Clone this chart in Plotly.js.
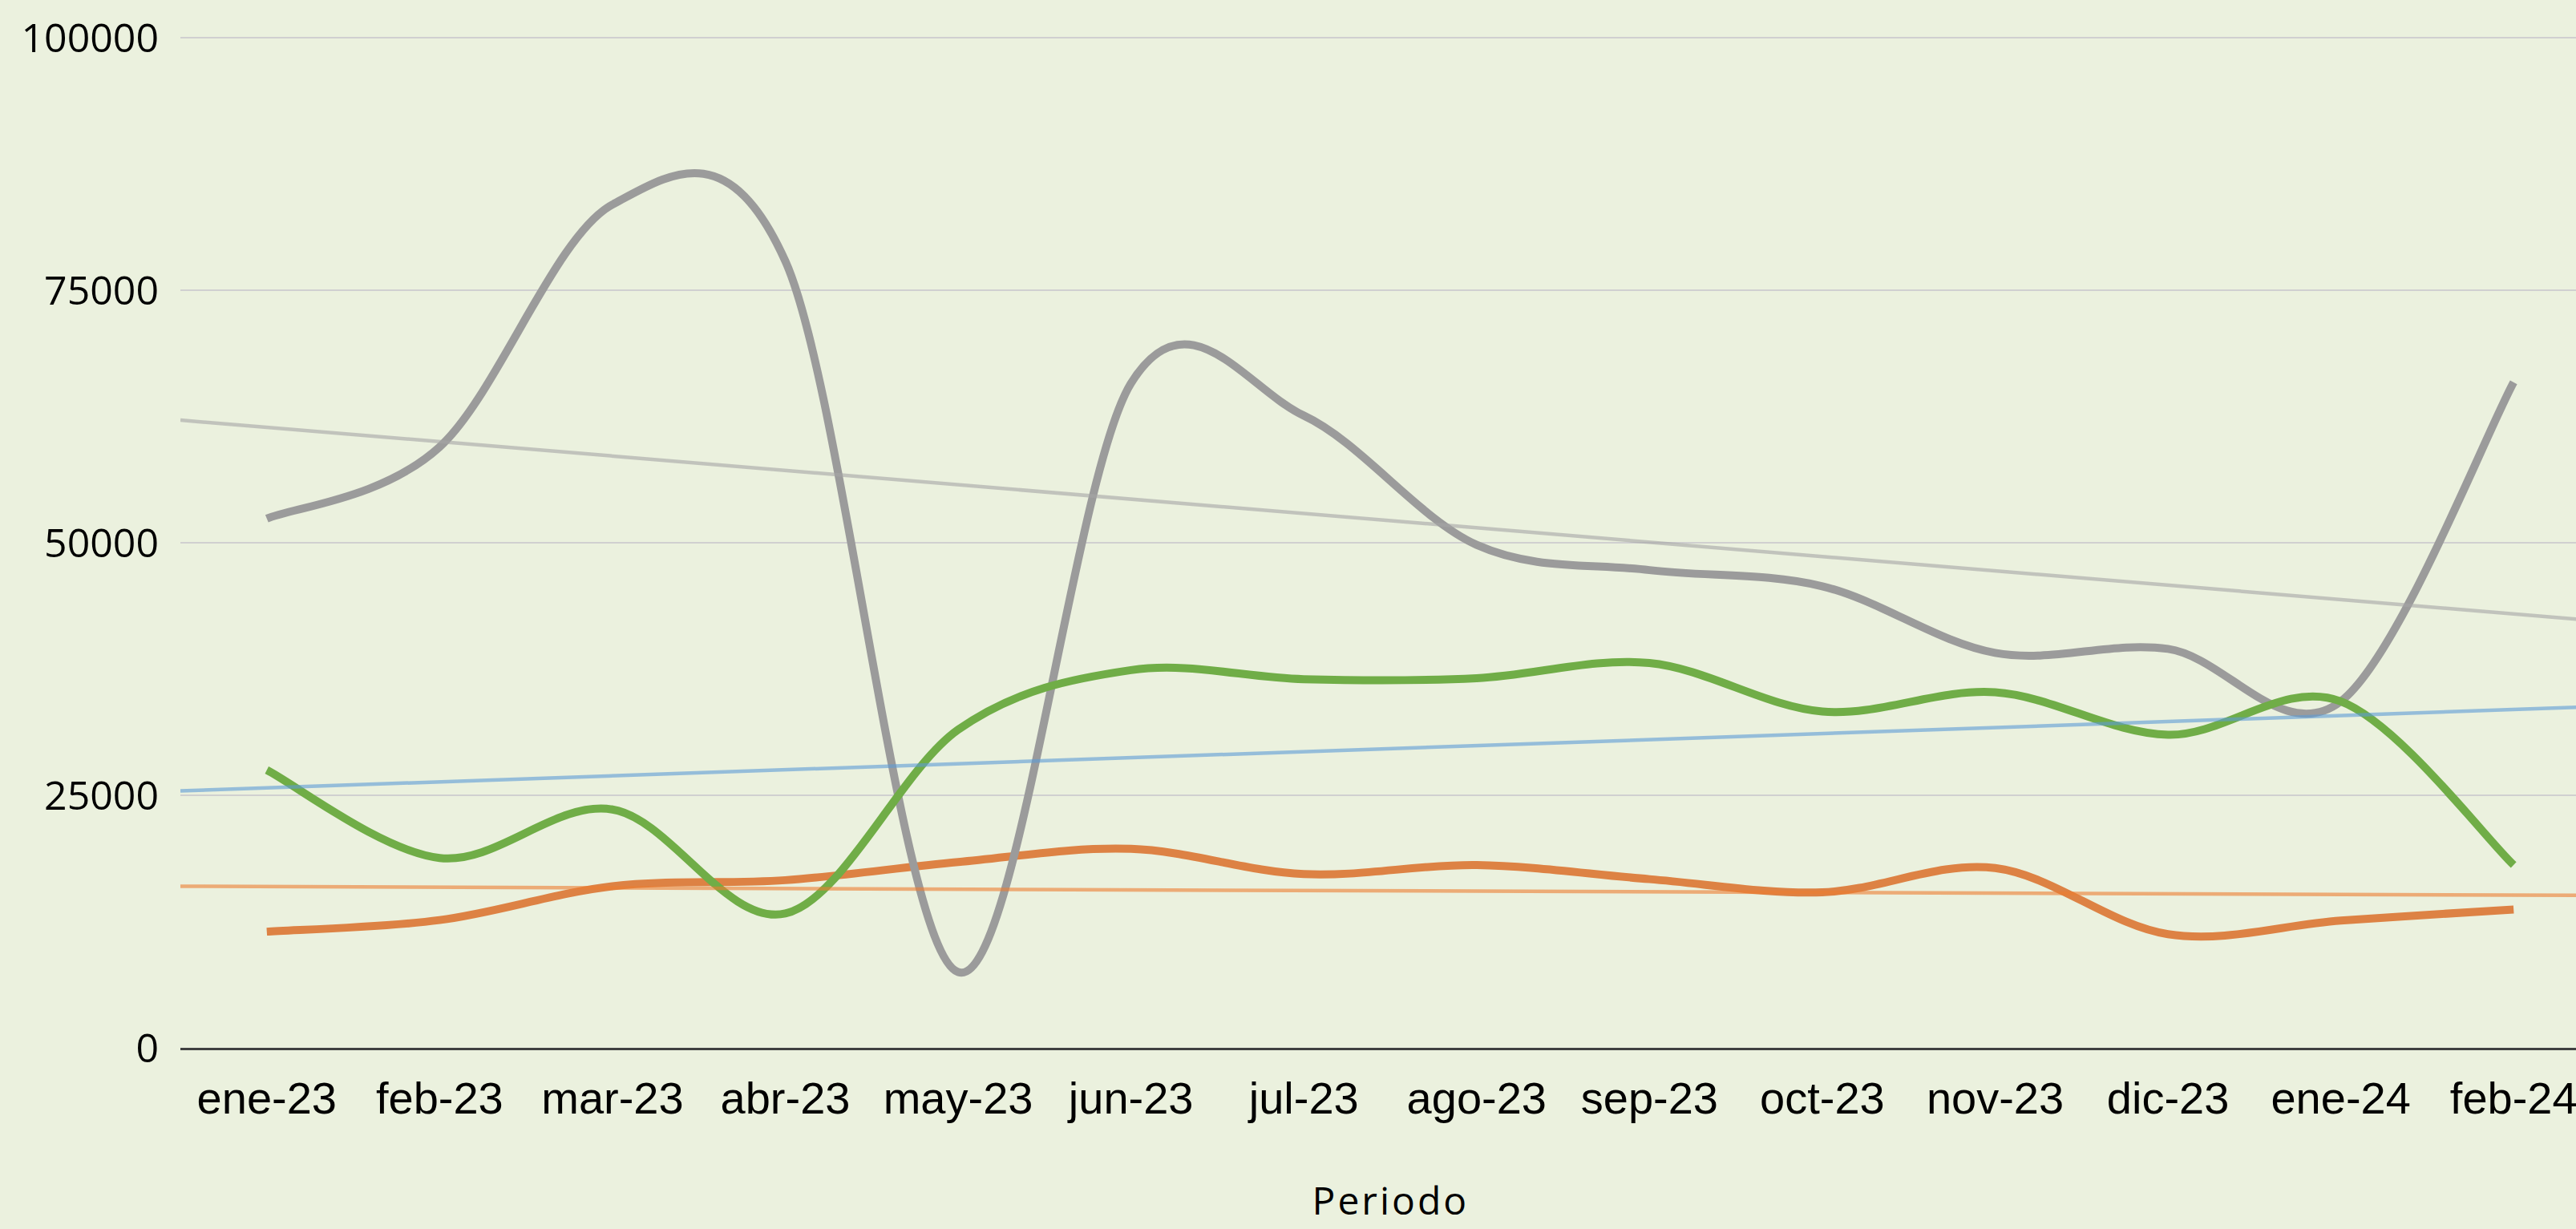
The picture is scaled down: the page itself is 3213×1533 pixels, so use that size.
<!DOCTYPE html>
<html>
<head>
<meta charset="utf-8">
<script src="https://cdn.plot.ly/plotly-3.0.1.min.js"></script>
<style>
  html, body { margin: 0; padding: 0; background: #EBF1DE; overflow: hidden; width: 3213px; height: 1533px; }
  #chart { width: 3260px; height: 1533px; }
</style>
</head>
<body>
<div id="chart"></div>
<script>
// ---- Data ----
const meses = ['ene-23','feb-23','mar-23','abr-23','may-23','jun-23','jul-23','ago-23','sep-23','oct-23','nov-23','dic-23','ene-24','feb-24'];
const serieGris    = [52400, 59500, 83500, 77900, 7500, 65800, 62600, 49800, 47300, 45700, 39100, 39500, 34300, 65900];
const serieVerde   = [27500, 18800, 23600, 13300, 31500, 37400, 36500, 36600, 38100, 33300, 35200, 31000, 34300, 18100];
const serieNaranja = [11500, 12650, 16000, 16600, 18400, 19700, 17200, 18100, 16700, 15400, 17800, 11250, 12600, 13700];
// Linear trend of a series whose line is not shown (value at ene-23 and at feb-24)
const tendenciaAzul = [25740, 33500];
const yTicks = [0, 25000, 50000, 75000, 100000];
const tituloX = 'Periodo';

// ---- Helpers ----
const idx = meses.map((_, i) => i);
const xMin = -0.5, xMax = meses.length - 0.5;
function linreg(ys) {
  const n = ys.length;
  const mx = (n - 1) / 2;
  const my = ys.reduce((a, b) => a + b, 0) / n;
  let sxy = 0, sxx = 0;
  ys.forEach((y, i) => { sxy += (i - mx) * (y - my); sxx += (i - mx) * (i - mx); });
  const m = sxy / sxx;
  return { m: m, b: my - m * mx };
}
function trendTrace(fit, color) {
  return {
    x: [xMin, xMax],
    y: [fit.b + fit.m * xMin, fit.b + fit.m * xMax],
    mode: 'lines', line: { color: color, width: 4.5 },
    hoverinfo: 'skip', showlegend: false
  };
}
const fitAzul = (function () {
  const last = meses.length - 1;
  const m = (tendenciaAzul[1] - tendenciaAzul[0]) / last;
  return { m: m, b: tendenciaAzul[0] };
})();

// Smoothed line (Excel-style cubic Bezier through the data points), drawn in data coordinates
function smoothPath(ys) {
  const n = ys.length;
  const P = (i) => [idx[Math.max(0, Math.min(n - 1, i))], ys[Math.max(0, Math.min(n - 1, i))]];
  let d = 'M ' + P(0)[0] + ',' + P(0)[1];
  for (let i = 0; i < n - 1; i++) {
    const p0 = P(i - 1), p1 = P(i), p2 = P(i + 1), p3 = P(i + 2);
    const c1 = [p1[0] + (p2[0] - p0[0]) / 6, p1[1] + (p2[1] - p0[1]) / 6];
    const c2 = [p2[0] - (p3[0] - p1[0]) / 6, p2[1] - (p3[1] - p1[1]) / 6];
    d += ' C ' + c1[0] + ',' + c1[1] + ' ' + c2[0] + ',' + c2[1] + ' ' + p2[0] + ',' + p2[1];
  }
  return d;
}
const lw = 10;
function seriesShape(ys, color) {
  return { type: 'path', xref: 'x', yref: 'y', layer: 'between', path: smoothPath(ys),
           line: { color: color, width: lw }, fillcolor: 'rgba(0,0,0,0)' };
}

const traces = [
  trendTrace(fitAzul, 'rgba(91,155,213,0.6)'),
  trendTrace(linreg(serieNaranja), 'rgba(237,125,49,0.6)'),
  trendTrace(linreg(serieGris), 'rgba(165,165,165,0.6)')
];

const layout = {
  width: 3260, height: 1533,
  margin: { l: 225, r: 17, t: 46, b: 226, pad: 0 },
  paper_bgcolor: '#EBF1DE', plot_bgcolor: '#EBF1DE',
  showlegend: false,
  xaxis: {
    type: 'linear', range: [xMin, xMax], fixedrange: true,
    tickmode: 'array', tickvals: idx, ticktext: meses,
    showgrid: false, zeroline: false,
    showline: true, linecolor: '#404040', linewidth: 3,
    ticks: '', ticklabelstandoff: 12,
    tickfont: { family: 'Liberation Sans, Arial, sans-serif', size: 56, color: '#000000' }
  },
  yaxis: {
    range: [0, 100100], fixedrange: true,
    tickmode: 'array', tickvals: yTicks, ticktext: yTicks.map(String),
    showgrid: true, gridcolor: '#D0D0D0', gridwidth: 2,
    zeroline: false, showline: false, ticks: '', ticklabelstandoff: 26,
    tickfont: { family: 'Open Sans, sans-serif', size: 50, color: '#000000' }
  },
  shapes: [
    seriesShape(serieNaranja, '#DD8244'),
    seriesShape(serieGris, '#9B9B9B'),
    seriesShape(serieVerde, '#70AD47')
  ],
  annotations: [{
    text: tituloX, xref: 'paper', yref: 'paper', x: 0.5, y: -(1531 - 1307) / 1260,
    xanchor: 'center', yanchor: 'bottom', showarrow: false,
    font: { family: 'Open Sans, sans-serif', size: 48, color: '#000000' }
  }]
};

Plotly.newPlot('chart', traces, layout, { staticPlot: true, displayModeBar: false }).then(function () {
  document.querySelectorAll('.annotation-text').forEach(function (t) { t.style.letterSpacing = '3px'; });
});
</script>
</body>
</html>
